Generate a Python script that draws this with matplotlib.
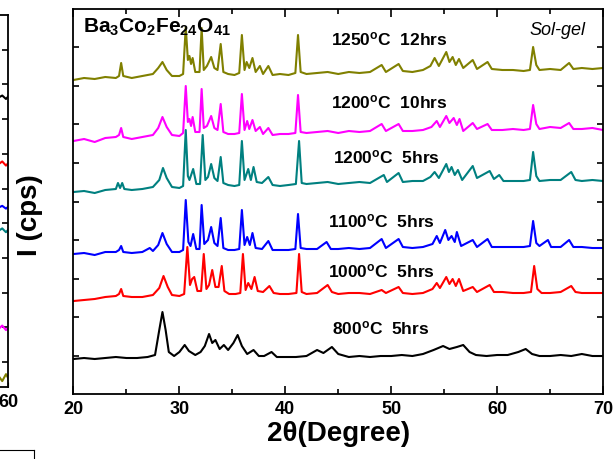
### DEPENDENCIAS
### ------------------

import numpy as np
import matplotlib.pyplot as plt

plt.rcParams['font.family'] = 'Liberation Sans'
plt.rcParams['mathtext.fontset'] = 'custom'
plt.rcParams['mathtext.rm'] = 'Liberation Sans'
plt.rcParams['mathtext.bf'] = 'Liberation Sans:bold'
plt.rcParams['mathtext.it'] = 'Liberation Sans:italic'

### DATOS (intensidad con desplazamiento incluido)
### ------------------

tth_1250 = [20.0, 21.0, 22.0, 23.0, 24.0, 24.3, 24.5, 24.7, 25.5, 26.5, 27.5, 28.0, 28.4, 28.8, 29.3, 30.0, 30.35,
            30.6, 30.8, 30.95, 31.1, 31.25, 31.5, 31.9, 32.1, 32.3, 32.6, 33.0, 33.3, 33.6, 33.9, 34.15, 34.6, 35.2,
            35.65, 35.9, 36.15, 36.35, 36.6, 36.9, 37.2, 37.6, 37.9, 38.4, 38.8, 39.5, 40.3, 40.95, 41.2, 41.45,
            42.0, 43.0, 44.0, 45.0, 46.0, 47.0, 48.0, 49.1, 49.5, 50.7, 51.1, 52.0, 53.0, 53.7, 54.1, 54.5,
            55.2, 55.5, 55.8, 56.1, 56.4, 56.8, 57.7, 58.1, 59.1, 59.5, 60.5, 61.5, 62.5, 63.1, 63.4, 63.7, 64.0,
            65.0, 66.0, 66.8, 67.2, 68.0, 69.0, 70.0]
cps_1250 = [314, 316, 315, 317, 316, 318, 331, 318, 316, 318, 320, 326, 332, 324, 318, 318, 320,
            367, 334, 338, 330, 336, 322, 322, 366, 324, 328, 337, 326, 324, 350, 322, 320, 319,
            321, 359, 324, 332, 326, 336, 322, 328, 320, 328, 319, 320, 319, 321, 359, 322,
            320, 321, 322, 320, 322, 321, 322, 329, 322, 330, 323, 322, 324, 328, 336, 328,
            342, 332, 337, 329, 335, 326, 334, 325, 332, 325, 324, 324, 323, 324, 347, 329, 324,
            325, 324, 331, 325, 326, 325, 326]

tth_1200_10 = [20.0, 21.0, 22.0, 23.0, 24.0, 24.3, 24.5, 24.7, 25.5, 26.5, 27.5, 28.0, 28.4, 28.8, 29.3, 30.0, 30.35,
               30.6, 30.8, 30.95, 31.1, 31.25, 31.5, 31.9, 32.1, 32.3, 32.6, 33.0, 33.3, 33.6, 33.9, 34.15, 34.6, 35.2,
               35.65, 35.9, 36.15, 36.4, 36.6, 36.9, 37.2, 37.6, 37.9, 38.4, 38.8, 39.5, 40.3, 40.95, 41.2, 41.45,
               42.0, 43.0, 44.0, 45.0, 46.0, 47.0, 48.0, 49.1, 49.5, 50.7, 51.1, 52.0, 53.0, 53.8, 54.3, 54.6,
               55.2, 55.5, 55.9, 56.2, 56.45, 56.8, 57.7, 58.1, 59.1, 59.5, 60.5, 61.5, 62.5, 63.1, 63.4, 63.7, 64.0,
               65.0, 66.0, 66.8, 67.2, 68.0, 69.0, 70.0]
cps_1200_10 = [253, 255, 252, 256, 257, 259, 266, 257, 255, 257, 259, 266, 277, 267, 259, 258, 261,
               308, 272, 275, 268, 277, 262, 262, 305, 266, 268, 278, 266, 264, 290, 262, 260, 260,
               261, 300, 264, 273, 265, 274, 263, 267, 260, 266, 259, 260, 260, 261, 299, 262,
               261, 262, 263, 261, 263, 262, 263, 270, 263, 270, 263, 263, 264, 267, 273, 267,
               278, 271, 276, 269, 275, 263, 271, 265, 270, 264, 264, 265, 264, 265, 289, 270, 265,
               267, 266, 271, 265, 265, 266, 264]

tth_1200_5 = [20.0, 21.0, 22.0, 23.0, 24.0, 24.2, 24.4, 24.6, 24.8, 25.5, 26.5, 27.5, 28.1, 28.45, 28.8, 29.3, 30.0, 30.35,
              30.6, 30.8, 30.95, 31.3, 31.6, 31.95, 32.2, 32.45, 32.7, 33.0, 33.3, 33.6, 33.9, 34.15, 34.6, 35.2, 35.65,
              35.9, 36.15, 36.5, 36.75, 37.0, 37.3, 37.8, 38.4, 38.8, 39.5, 40.3, 41.0, 41.3, 41.55,
              42.0, 43.0, 44.0, 45.0, 46.0, 47.0, 48.0, 49.3, 49.6, 50.7, 51.1, 52.0, 53.0, 53.7, 54.1, 54.5,
              55.2, 55.45, 55.7, 56.0, 56.3, 56.7, 57.7, 58.1, 59.3, 59.7, 60.2, 60.6, 61.5, 62.5, 63.1, 63.4, 63.7, 64.0,
              65.0, 66.0, 67.0, 67.4, 68.0, 69.0, 70.0]
cps_1200_5 = [202, 203, 201, 204, 205, 211, 206, 211, 205, 204, 205, 207, 214, 226, 216, 207, 206, 208,
              264, 218, 214, 225, 210, 210, 259, 214, 217, 230, 216, 213, 237, 211, 209, 208, 209,
              253, 214, 225, 214, 227, 212, 211, 217, 209, 208, 209, 210, 253, 211,
              210, 211, 212, 210, 211, 212, 211, 219, 212, 221, 212, 213, 213, 217, 222, 216,
              230, 222, 227, 219, 224, 214, 228, 216, 223, 215, 219, 213, 213, 213, 214, 242, 218, 213,
              214, 214, 222, 214, 213, 214, 213]

tth_1100 = [20.0, 21.0, 22.0, 23.0, 24.0, 24.3, 24.5, 24.7, 25.5, 26.5, 27.2, 27.5, 28.0, 28.4, 28.8, 29.3, 30.0, 30.35,
            30.6, 30.85, 31.05, 31.3, 31.6, 31.9, 32.1, 32.35, 32.7, 33.0, 33.3, 33.6, 33.9, 34.15, 34.6, 35.2, 35.65,
            35.9, 36.15, 36.4, 36.65, 36.9, 37.2, 37.8, 38.4, 38.8, 39.5, 40.3, 40.95, 41.2, 41.45,
            42.0, 43.0, 43.9, 44.3, 45.0, 46.0, 47.0, 48.0, 49.1, 49.5, 50.7, 51.1, 52.0, 53.0, 53.9, 54.3, 54.6,
            55.1, 55.4, 55.7, 56.0, 56.2, 56.6, 57.7, 58.1, 59.1, 59.5, 60.5, 61.5, 62.5, 63.1, 63.4, 63.7, 64.0,
            64.8, 65.1, 66.0, 66.8, 67.2, 68.0, 69.0, 70.0]
cps_1100 = [140, 141, 139, 142, 142, 144, 148, 142, 141, 142, 146, 143, 149, 161, 150, 142, 142, 144,
            194, 152, 148, 160, 145, 145, 189, 150, 154, 167, 151, 148, 176, 146, 144, 144, 145,
            184, 149, 157, 149, 161, 146, 145, 153, 144, 144, 144, 145, 180, 146,
            145, 145, 152, 145, 145, 146, 145, 146, 155, 146, 155, 147, 146, 147, 150, 158, 151,
            164, 154, 158, 152, 162, 148, 154, 147, 155, 147, 147, 147, 147, 148, 173, 151, 148,
            154, 147, 147, 154, 147, 147, 146, 146]

tth_1000 = [20.0, 21.0, 22.0, 23.0, 24.0, 24.3, 24.5, 24.7, 25.5, 26.5, 27.5, 28.1, 28.5, 28.9, 29.3, 30.0, 30.45,
            30.75, 31.0, 31.2, 31.4, 31.7, 32.05, 32.3, 32.55, 32.8, 33.1, 33.4, 33.7, 34.0, 34.25, 34.7, 35.3, 35.75,
            36.0, 36.25, 36.5, 36.8, 37.1, 37.4, 37.9, 38.5, 38.9, 39.5, 40.3, 41.05, 41.3, 41.55,
            42.0, 43.0, 44.0, 44.4, 45.0, 46.0, 47.0, 48.0, 49.1, 49.5, 50.7, 51.1, 52.0, 53.0, 53.9, 54.3, 54.6,
            55.2, 55.5, 55.8, 56.1, 56.4, 56.8, 57.7, 58.1, 59.3, 59.7, 60.5, 61.5, 62.5, 63.2, 63.5, 63.8, 64.2,
            65.0, 66.0, 67.0, 67.4, 68.0, 69.0, 70.0]
cps_1000 = [93, 94, 95, 97, 98, 100, 105, 98, 97, 97, 99, 106, 118, 107, 99, 98, 100,
            147, 109, 115, 117, 103, 103, 140, 105, 109, 124, 107, 107, 128, 103, 100, 100, 101,
            140, 104, 111, 105, 117, 103, 102, 108, 101, 100, 100, 101, 140, 102,
            100, 101, 109, 102, 100, 101, 101, 100, 104, 101, 107, 101, 100, 101, 105, 111, 106,
            117, 110, 115, 108, 115, 103, 107, 102, 109, 102, 102, 101, 101, 102, 128, 105, 101,
            101, 102, 108, 102, 101, 101, 101]

tth_800 = [20.0, 21.0, 22.0, 23.0, 24.0, 25.0, 26.0, 27.0, 27.7, 28.1, 28.4, 28.7, 29.0,
           29.5, 30.0, 30.5, 30.9, 31.5, 32.0, 32.4, 32.8, 33.1, 33.4, 33.8, 34.2, 34.6, 35.1, 35.5, 35.9,
           36.4, 37.0, 37.5, 38.0, 38.7, 39.2, 40.0, 41.0, 42.0, 43.0, 43.6, 44.4, 45.0, 46.0, 47.0, 48.0,
           49.0, 50.0, 51.0, 52.0, 53.0, 54.0, 54.9, 55.5, 56.2, 56.8, 57.4, 58.0, 59.0, 60.0, 61.0, 62.0,
           62.7, 63.3, 64.0, 65.0, 66.0, 67.0, 68.0, 69.0, 70.0]
cps_800 = [35, 36, 35, 36, 37, 36, 36, 37, 39, 64, 82, 64, 42,
           38, 42, 49, 43, 39, 42, 48, 60, 51, 54, 45, 49, 44, 51, 59, 48,
           40, 44, 38, 38, 42, 37, 37, 37, 38, 44, 41, 47, 40, 37, 38, 37,
           38, 38, 39, 38, 40, 44, 48, 45, 47, 49, 42, 39, 38, 39, 39, 42,
           45, 40, 38, 38, 39, 38, 40, 38, 38]

labels = ['1250$^\\mathbf{o}$C  12hrs', '1200$^\\mathbf{o}$C  10hrs', '1200$^\\mathbf{o}$C  5hrs',
          '1100$^\\mathbf{o}$C  5hrs', '1000$^\\mathbf{o}$C  5hrs', '800$^\\mathbf{o}$C  5hrs']
colors = ['#808000', '#ff00ff', '#008080', '#0000ff', '#ff0000', '#000000']

# fragmento del panel vecino (solo se ve su borde derecho)
tth_prev = [59.2, 59.5, 59.8, 60.0]
cps_prev = [[-0.40, -0.55, -0.35, -0.48],
            [0.95, 1.05, 0.92, 1.00],
            [3.78, 3.85, 3.74, 3.82],
            [4.45, 4.50, 4.42, 4.48],
            [5.70, 5.78, 5.66, 5.74],
            [7.62, 7.68, 7.58, 7.66]]

### GRAFICO
### ------------------

series = [(tth_1250, cps_1250), (tth_1200_10, cps_1200_10), (tth_1200_5, cps_1200_5),
          (tth_1100, cps_1100), (tth_1000, cps_1000), (tth_800, cps_800)]
label_pos = [(44.32, 349), (44.32, 286), (44.51, 231), (44.03, 167), (44.03, 117), (44.41, 60)]

fig = plt.figure(figsize=(6.15, 4.59), dpi=100)
ax = fig.add_axes([0.1195, 0.1416, 0.861, 0.8388])

for (tth, cps), c in zip(series, colors):
    ax.plot(tth, cps, color=c, lw=1.5)

for lab, (x, y) in zip(labels, label_pos):
    ax.text(x, y, lab, fontsize=12.5, fontweight='bold', va='baseline')

ax.text(20.9, 361, r'$\mathbf{Ba_3Co_2Fe_{24}O_{41}}$', fontsize=15, va='baseline')
ax.text(63.1, 359, 'Sol-gel', fontsize=13, style='italic', va='baseline')

ax.set_xlim(20, 70)
ax.set_ylim(0, 385)
ax.set_xticks(np.arange(20, 71, 10))
ax.set_xticks(np.arange(25, 70, 10), minor=True)
ax.set_yticks(np.arange(38.5, 385, 38.5))
ax.set_yticklabels([])
ax.tick_params(axis='both', which='both', direction='in', top=True, right=True)
ax.tick_params(axis='x', which='major', length=6, width=1.2, labelsize=13, pad=5)
ax.tick_params(axis='x', which='minor', length=3.5, width=1.2)
ax.tick_params(axis='y', length=4, width=1.2)
for lbl in ax.get_xticklabels():
    lbl.set_fontweight('bold')
for s in ax.spines.values():
    s.set_linewidth(1.3)
ax.set_xlabel('2θ(Degree)', fontsize=20, fontweight='bold', labelpad=2)
fig.text(0.049, 0.531, 'I (cps)', rotation=90, fontsize=20, fontweight='bold', ha='center', va='center')

# panel vecino cortado a la izquierda
axp = fig.add_axes([-0.8, 0.1569, 0.8138, 0.8104])
for cps, c in zip(cps_prev, colors):
    axp.plot(tth_prev, cps, color=c, lw=1.5)
axp.set_xlim(20, 60)
axp.set_ylim(-0.72, 10)
axp.set_xticks([60])
axp.set_yticks(np.arange(0, 10, 1))
axp.set_yticklabels([])
axp.tick_params(axis='y', direction='in', left=False, right=True, length=4, width=1.2)
axp.tick_params(axis='x', direction='in', labelsize=13, pad=5)
for lbl in axp.get_xticklabels():
    lbl.set_fontweight('bold')
for s in axp.spines.values():
    s.set_linewidth(1.3)

# recuadro inferior izquierdo
axb = fig.add_axes([-0.5, -0.5, 0.5545, 0.5196])
axb.set_xticks([])
axb.set_yticks([])

fig.savefig('out.png', dpi=100)
